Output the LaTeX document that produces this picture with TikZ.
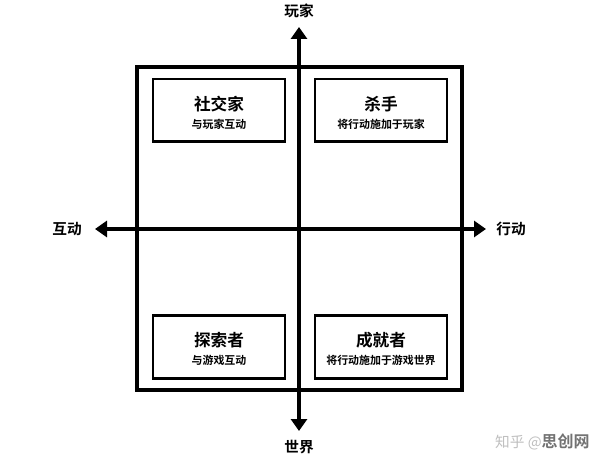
\documentclass[tikz,border=0pt]{standalone}
\usepackage{fontspec}
\setmainfont{Noto Sans CJK SC}
\newfontfamily\cjkb{Noto Sans CJK SC Bold}
\usetikzlibrary{arrows.meta}
\begin{document}
\begin{tikzpicture}[x=0.75pt,y=-0.75pt,
  outerbox/.style={draw=black,line width=2.4pt},
  innerbox/.style={draw=black,line width=2pt,fill=white,minimum width=99pt,minimum height=47pt,inner sep=0pt},
  axis/.style={line width=2.4pt,-{Triangle[length=9pt,width=12pt]}},
  title/.style={font=\cjkb\fontsize{12.5pt}{14pt}\selectfont},
  sub/.style={font=\cjkb\fontsize{8.2pt}{10pt}\selectfont},
  axlabel/.style={font=\cjkb\fontsize{11pt}{13pt}\selectfont}]
\useasboundingbox (0,0) rectangle (596,459);
\fill[white] (0,0) rectangle (596,459);
\draw[outerbox] (137,67) rectangle (462,390);
\coordinate (c) at (299,229);
\coordinate (top) at (299,27);
\coordinate (bot) at (299,431);
\coordinate (lft) at (95,229);
\coordinate (rgt) at (486,229);
\draw[axis] (c) -- (top);
\draw[axis] (c) -- (bot);
\draw[axis] (c) -- (lft);
\draw[axis] (c) -- (rgt);
\node[innerbox] (s) at (219,110.5) {};
\node[innerbox] (k) at (381,110.5) {};
\node[innerbox] (e) at (219,347) {};
\node[innerbox] (a) at (381,347) {};
\node[title] (st) at (219,104) {社交家};
\node[sub] (ss) at (219,124) {与玩家互动};
\node[title] (kt) at (381,104) {杀手};
\node[sub] (ks) at (381,124) {将行动施加于玩家};
\node[title] (et) at (219,340) {探索者};
\node[sub] (es) at (219,360) {与游戏互动};
\node[title] (at) at (381,340) {成就者};
\node[sub] (as) at (381,360) {将行动施加于游戏世界};
\node[axlabel] (ltop) at (299,11) {玩家};
\node[axlabel] (lbot) at (299,447) {世界};
\node[axlabel] (llft) at (67,229) {互动};
\node[axlabel] (lrgt) at (511,229) {行动};
\node[anchor=east,inner sep=0pt] (wm) at (590,442) {{\color{black!25}\fontsize{11pt}{13pt}\selectfont 知乎 @}{\cjkb\color{black!55}\fontsize{12pt}{14pt}\selectfont 思创网}};
\end{tikzpicture}
\end{document}
